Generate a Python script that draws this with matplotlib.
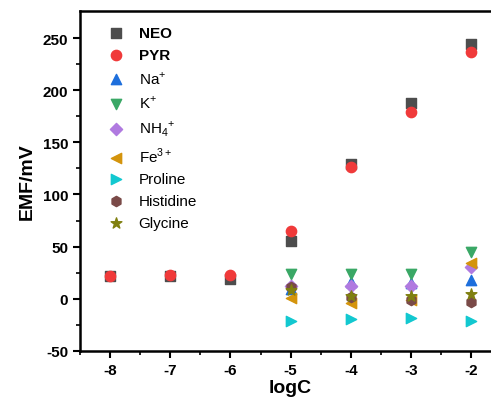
import matplotlib
matplotlib.use("Agg")
import matplotlib.pyplot as plt

plt.rcParams['font.family'] = ['Liberation Sans', 'DejaVu Sans']
plt.rcParams['mathtext.fontset'] = 'custom'
plt.rcParams['mathtext.rm'] = 'Liberation Sans'
plt.rcParams['axes.unicode_minus'] = False

logc_all = [-8, -7, -6, -5, -4, -3, -2]
logc_int = [-5, -4, -3, -2]

neo = [22, 22, 19, 55, 129, 188, 244]
pyr = [22, 23, 23, 65, 126, 179, 237]
na = [9, 15.5, 15, 18]
k = [23.5, 23.5, 23.5, 44.5]
nh4 = [12, 12, 12, 30]
fe = [0.5, -4, -1, 34]
proline = [-21, -19.5, -19, -21]
histidine = [11.5, 2, -1.5, -3.5]
glycine = [8, 3, 3, 4]

fig = plt.figure(figsize=(4.91, 4.02), dpi=100)
ax = fig.add_axes([0.163, 0.125, 0.858, 0.845])

s = 55
ax.scatter(logc_all, neo, marker='s', s=s, color='#4d4d4d', label='NEO', zorder=3)
ax.scatter(logc_all, pyr, marker='o', s=s, color='#f03a3a', label='PYR', zorder=3)
ax.scatter(logc_int, na, marker='^', s=s, color='#1e6fdc', label='Na$^{+}$', zorder=3)
ax.scatter(logc_int, k, marker='v', s=s, color='#3aa866', label='K$^{+}$', zorder=3)
ax.scatter(logc_int, nh4, marker='D', s=s * 0.7, color='#b07ae0', label='NH$_4$$^{+}$', zorder=3)
ax.scatter(logc_int, fe, marker='<', s=s, color='#d4940c', label='Fe$^{3+}$', zorder=3)
ax.scatter(logc_int, proline, marker='>', s=s, color='#12c8d0', label='Proline', zorder=3)
ax.scatter(logc_int, histidine, marker='h', s=s, color='#7a4a48', label='Histidine', zorder=3)
ax.scatter(logc_int, glycine, marker='*', s=s * 1.2, color='#808010', label='Glycine', zorder=3)

ax.set_xlim(-8.5, -1.5)
ax.set_ylim(-50, 276)
ax.set_xticks(logc_all)
ax.set_yticks([-50, 0, 50, 100, 150, 200, 250])
ax.set_xticks([-8.5 + i * 1.0 for i in range(7)], minor=True)
ax.set_yticks([-25, 25, 75, 125, 175, 225], minor=True)

for sp in ax.spines.values():
    sp.set_linewidth(1.8)
ax.spines['right'].set_visible(False)
ax.tick_params(which='major', direction='out', length=5, width=1.5, labelsize=11, top=False, right=False)
ax.tick_params(which='minor', direction='out', length=3, width=1.2, top=False, right=False)
for lbl in ax.get_xticklabels() + ax.get_yticklabels():
    lbl.set_fontweight('bold')

ax.set_xlabel('logC', fontsize=14, fontweight='bold', labelpad=2)
ax.set_ylabel('EMF/mV', fontsize=14, fontweight='bold', labelpad=5)

leg = ax.legend(loc='upper left', frameon=False, fontsize=11, labelspacing=0.5,
                handletextpad=0.5, borderaxespad=0.6, bbox_to_anchor=(0.012, 1.0))
for t in leg.get_texts()[:2]:
    t.set_fontweight('bold')

fig.savefig('out.png', dpi=100)
